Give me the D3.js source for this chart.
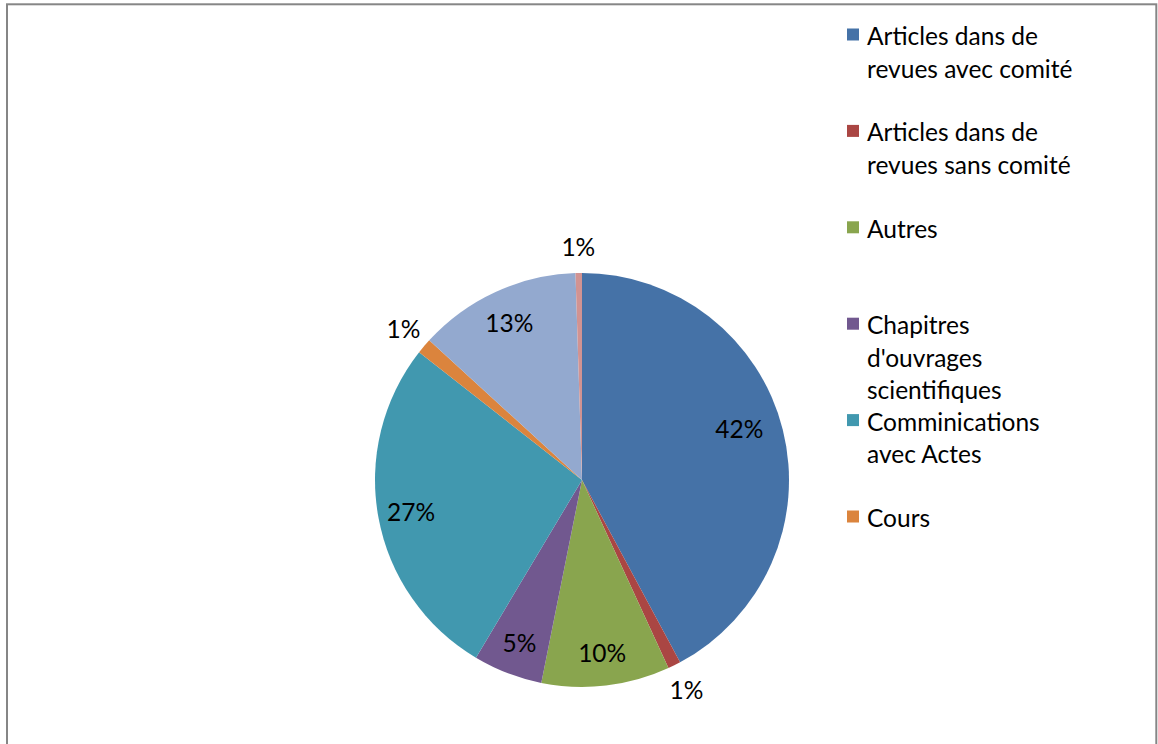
<!DOCTYPE html>
<html>
<head>
<meta charset="utf-8">
<script src="https://cdn.jsdelivr.net/npm/d3@7"></script>
<style>
  html, body { margin: 0; padding: 0; background: #fff; }
  svg { display: block; }
  text { font-family: Lato, "Liberation Sans", sans-serif; fill: #000; }
</style>
</head>
<body>
<svg id="chart" width="1158" height="744"></svg>
<script>
// ---- data ----
const categories = [
  "Articles dans de revues avec comité",
  "Articles dans de revues sans comité",
  "Autres",
  "Chapitres d'ouvrages scientifiques",
  "Comminications avec Actes",
  "Cours",
  "Ouvrages",
  "Thèses"
];
const values = [42.1, 1.0, 10.0, 5.4, 27.0, 1.2, 12.7, 0.5];
const colors = ["#4572A7", "#AA4643", "#89A54E", "#71588F", "#4198AF", "#DB843D", "#93A9CF", "#D19392"];
// legend shows only the entries that fit (as in the original)
const legendLines = [
  ["Articles dans de", "revues avec comité"],
  ["Articles dans de", "revues sans comité"],
  ["Autres"],
  ["Chapitres", "d'ouvrages", "scientifiques"],
  ["Comminications", "avec Actes"],
  ["Cours"]
];

const svg = d3.select("#chart");

// border
svg.append("rect")
  .attr("x", 7).attr("y", 4.3)
  .attr("width", 1149.3).attr("height", 800)
  .attr("fill", "none").attr("stroke", "#868686").attr("stroke-width", 2);

const cx = 582, cy = 480, R = 207;
const g = svg.append("g").attr("transform", `translate(${cx},${cy})`);

const total = d3.sum(values);
const data = categories.map((c, i) => ({ name: c, value: values[i], color: colors[i] }));
const pie = d3.pie().value(d => d.value).sort(null);
const arcs = pie(data);
const arc = d3.arc().innerRadius(0).outerRadius(R);

g.selectAll("path.slice")
  .data(arcs)
  .join("path")
  .attr("class", "slice")
  .attr("d", arc)
  .attr("fill", d => d.data.color);

const fmt = v => Math.round(v / total * 100) + "%";
g.selectAll("text.lbl")
  .data(arcs)
  .join("text")
  .attr("class", "lbl")
  .attr("text-anchor", "middle")
  .attr("dominant-baseline", "central")
  .attr("font-size", 24.5)
  .attr("transform", d => {
    const a = (d.startAngle + d.endAngle) / 2;
    const frac = (d.endAngle - d.startAngle) / (2 * Math.PI);
    const r = frac < 0.03 ? R + 27 : (frac > 0.35 ? R * 0.8 : R * 0.84);
    const ang = frac > 0.35 ? a - 0.07 : a;
    return `translate(${r * Math.sin(ang)},${-r * Math.cos(ang)})`;
  })
  .text(d => fmt(d.data.value));

// legend
const lg = svg.append("g");
const lineH = 32.5, step = 96.4, y0 = 35;
legendLines.forEach((lines, i) => {
  const y = y0 + i * step;
  lg.append("rect")
    .attr("x", 847).attr("y", y - 6.5)
    .attr("width", 12).attr("height", 12)
    .attr("fill", colors[i]);
  const t = lg.append("text")
    .attr("x", 867).attr("y", y)
    .attr("font-size", 24.5)
    .attr("dominant-baseline", "central");
  lines.forEach((ln, j) => {
    t.append("tspan").attr("x", 867).attr("y", y + j * lineH).text(ln);
  });
});
</script>
</body>
</html>
